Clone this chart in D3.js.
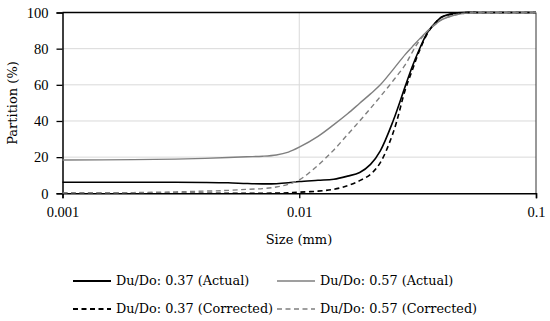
<!DOCTYPE html>
<html>
<head>
<meta charset="utf-8">
<script src="https://cdn.jsdelivr.net/npm/d3@7"></script>
<style>
  body { margin: 0; background: #fff; }
  svg text { font-family: "DejaVu Serif", serif; fill: #000; }
  svg .tick text { font-family: "Liberation Serif", serif; }
</style>
</head>
<body>
<svg id="viz" width="550" height="321"></svg>
<script>
const width = 550;
const height = 321;
const svg = d3.select("#viz");

// particle size (mm)
const sizes = [0.001, 0.002, 0.003, 0.004, 0.005, 0.006, 0.007, 0.008, 0.009, 0.01,
  0.012, 0.014, 0.016, 0.018, 0.02, 0.022, 0.025, 0.028, 0.03, 0.032,
  0.035, 0.038, 0.04, 0.045, 0.05, 0.06, 0.08, 0.1];

// partition (%)
const actual037 = [6.1, 6.1, 6.1, 6.0, 5.8, 5.4, 5.2, 5.3, 5.8, 6.5,
  7.2, 7.8, 9.5, 11.5, 16, 23.5, 40.5, 59, 70, 79,
  89.5, 95, 97.5, 99.5, 100, 100, 100, 100];
const actual057 = [18.4, 18.6, 18.9, 19.3, 19.8, 20.2, 20.5, 21.2, 22.8, 25.5,
  31.5, 38, 44, 49.8, 55, 60, 68.7, 76.7, 81, 85,
  90, 94, 96, 98.5, 99.6, 100, 100, 100];
const corrected037 = [0, 0, 0, 0, 0, 0, 0.05, 0.1, 0.3, 0.6,
  1.2, 2.2, 4.2, 7, 10.5, 17, 34, 57, 68, 78,
  89, 95, 97.5, 99.3, 100, 100, 100, 100];
const corrected057 = [0.2, 0.4, 0.8, 1.2, 1.6, 2.2, 2.6, 3.5, 5, 7.4,
  15.5, 24, 32.5, 40, 47, 53.5, 62.5, 71, 78, 84,
  90, 94, 96, 98.5, 99.5, 100, 100, 100];

const yTicks = [0, 20, 40, 60, 80, 100];
const xTicks = [0.001, 0.01, 0.1];

const series = [
  { name: "Du/Do: 0.37 (Actual)", values: actual037, color: "#000", dash: null },
  { name: "Du/Do: 0.57 (Actual)", values: actual057, color: "#7f7f7f", dash: null },
  { name: "Du/Do: 0.37 (Corrected)", values: corrected037, color: "#000", dash: "5,3.5" },
  { name: "Du/Do: 0.57 (Corrected)", values: corrected057, color: "#7f7f7f", dash: "5,3.5" }
];

const plot = { left: 62.5, right: 536, top: 12.5, bottom: 193.3 };

const x = d3.scaleLog().domain([0.001, 0.1]).range([plot.left, plot.right]);
const y = d3.scaleLinear().domain([0, 100]).range([plot.bottom, plot.top]);

// grid
svg.append("g")
  .selectAll("line")
  .data(yTicks.slice(1, -1))
  .join("line")
  .attr("x1", plot.left).attr("x2", plot.right)
  .attr("y1", d => y(d)).attr("y2", d => y(d))
  .attr("stroke", "#d9d9d9").attr("stroke-width", 1);

svg.append("line")
  .attr("x1", x(0.01)).attr("x2", x(0.01))
  .attr("y1", plot.top).attr("y2", plot.bottom)
  .attr("stroke", "#d9d9d9").attr("stroke-width", 1);

// frame top/right
svg.append("line")
  .attr("x1", plot.left).attr("x2", plot.right)
  .attr("y1", plot.top).attr("y2", plot.top)
  .attr("stroke", "#000").attr("stroke-width", 1.3);
svg.append("line")
  .attr("x1", plot.right).attr("x2", plot.right)
  .attr("y1", plot.top).attr("y2", plot.bottom)
  .attr("stroke", "#333").attr("stroke-width", 1);

// axes
const yAxis = svg.append("g")
  .attr("transform", `translate(${plot.left},0)`)
  .call(d3.axisLeft(y).tickValues(yTicks).tickSize(6).tickPadding(8));
const xAxis = svg.append("g")
  .attr("transform", `translate(0,${plot.bottom})`)
  .call(d3.axisBottom(x).tickValues(xTicks).tickFormat(d3.format("")).tickSize(5).tickPadding(8));

[yAxis, xAxis].forEach(g => {
  g.select(".domain").attr("stroke", "#000").attr("stroke-width", 1.5);
  g.selectAll(".tick line").attr("stroke", "#000").attr("stroke-width", 1.3);
  g.selectAll(".tick text").style("font-size", "14.5px").attr("fill", "#000");
});
yAxis.selectAll(".tick text").attr("dy", "0.33em");

// curves
const line = d3.line()
  .x((d, i) => x(sizes[i]))
  .y(d => y(d))
  .curve(d3.curveCatmullRom.alpha(0.5));

svg.append("g")
  .selectAll("path")
  .data(series)
  .join("path")
  .attr("d", d => line(d.values))
  .attr("fill", "none")
  .attr("stroke", d => d.color)
  .attr("stroke-width", d => d.color === "#000" ? 1.6 : 1.4)
  .attr("stroke-dasharray", d => d.dash);

// axis titles
svg.append("text")
  .attr("x", 299).attr("y", 244)
  .attr("text-anchor", "middle")
  .style("font-size", "13px")
  .text("Size (mm)");

svg.append("text")
  .attr("transform", "translate(17,103) rotate(-90)")
  .attr("text-anchor", "middle")
  .style("font-size", "13px")
  .text("Partition (%)");

// legend
const legendPos = [
  { lx: 73, ly: 281 }, { lx: 277, ly: 281 },
  { lx: 73, ly: 309 }, { lx: 277, ly: 309 }
];
const legend = svg.append("g")
  .selectAll("g")
  .data(series)
  .join("g")
  .attr("transform", (d, i) => `translate(${legendPos[i].lx},${legendPos[i].ly})`);

legend.append("line")
  .attr("x1", 0).attr("x2", 38)
  .attr("stroke", d => d.color)
  .attr("stroke-width", d => d.color === "#000" ? 1.8 : 1.4)
  .attr("stroke-dasharray", d => d.dash);

legend.append("text")
  .attr("x", 43).attr("dy", "0.35em")
  .style("font-size", "12.8px")
  .text(d => d.name);
</script>
</body>
</html>
